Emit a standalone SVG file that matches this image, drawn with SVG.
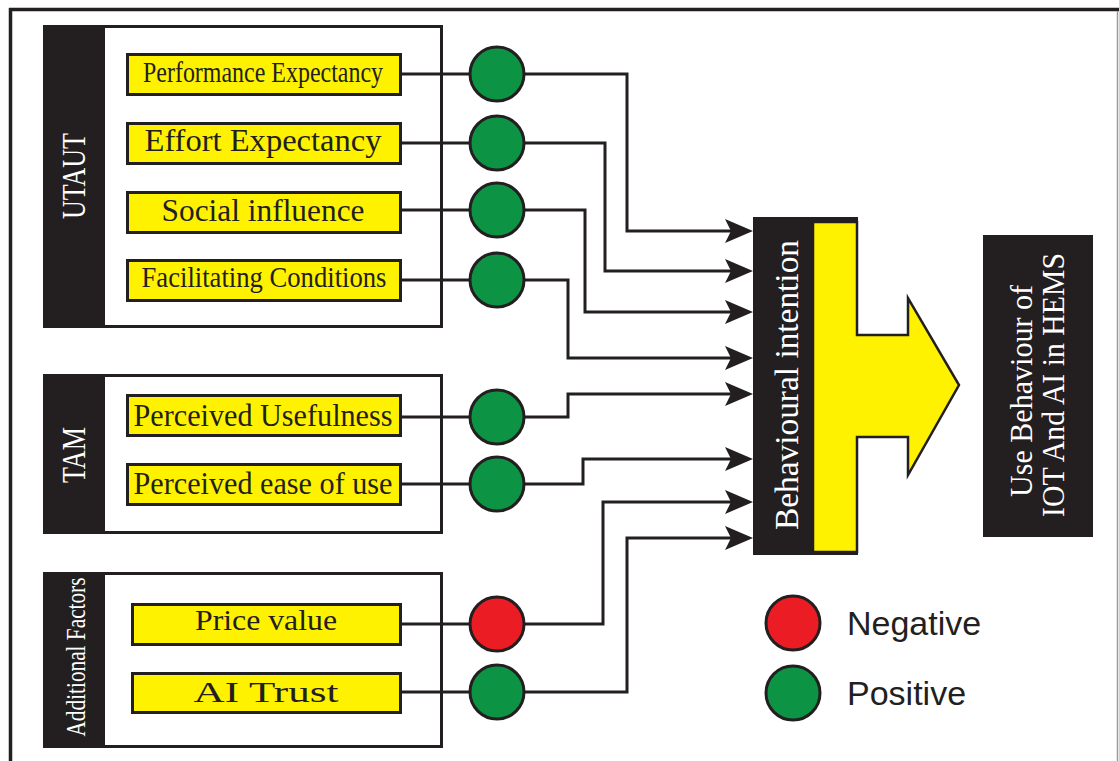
<svg xmlns="http://www.w3.org/2000/svg" width="1119" height="761" viewBox="0 0 1119 761">
<defs>
<style>
.frame{fill:#ffffff;stroke:#231f20;stroke-width:3}
.strip{fill:#231f20}
.ybox{fill:#fff200;stroke:#231f20;stroke-width:3}
.pos{fill:#0c9444;stroke:#231f20;stroke-width:3}
.neg{fill:#ec1c24;stroke:#231f20;stroke-width:3}
.conn{fill:none;stroke:#231f20;stroke-width:3;marker-end:url(#ah)}
.lbl{font-family:"Liberation Serif","Times New Roman",serif;fill:#231f20;text-anchor:middle}
.wlbl{font-family:"Liberation Serif","Times New Roman",serif;fill:#ffffff;text-anchor:middle}
.leg{font-family:"Liberation Sans",Arial,sans-serif;fill:#231f20;font-size:34px}
</style>
<marker id="ah" markerUnits="userSpaceOnUse" markerWidth="28" markerHeight="26" viewBox="0 0 28 26" refX="20" refY="13" orient="auto">
<path d="M0,1 L28,13 L0,25 L6,13 z" fill="#231f20"/>
</marker>
</defs>
<rect x="0" y="0" width="1119" height="761" fill="#ffffff"/>
<g id="outer-frame">
<line x1="9" y1="9.5" x2="1119" y2="9.5" stroke="#231f20" stroke-width="3.5"/>
<line x1="10.5" y1="8" x2="10.5" y2="761" stroke="#231f20" stroke-width="3.5"/>
<line x1="1117.5" y1="11" x2="1117.5" y2="761" stroke="#9a9a9a" stroke-width="1.5"/>
</g>
<g id="group-utaut">
<rect class="frame" x="44.5" y="26.5" width="397" height="300"/>
<rect class="strip" x="43" y="25" width="62" height="303"/>
<text class="wlbl" font-size="33" textLength="86" lengthAdjust="spacingAndGlyphs" transform="translate(85,176) rotate(-90)">UTAUT</text>
</g>
<g id="group-tam">
<rect class="frame" x="44.5" y="375.5" width="397" height="157"/>
<rect class="strip" x="43" y="374" width="62" height="160"/>
<text class="wlbl" font-size="33" textLength="56" lengthAdjust="spacingAndGlyphs" transform="translate(85,455) rotate(-90)">TAM</text>
</g>
<g id="group-additional">
<rect class="frame" x="44.5" y="573.5" width="397" height="173"/>
<rect class="strip" x="43" y="572" width="62" height="176"/>
<text class="wlbl" font-size="28" textLength="159" lengthAdjust="spacingAndGlyphs" transform="translate(85,657) rotate(-90)">Additional Factors</text>
</g>
<g id="connectors">
<path class="conn" d="M402,74 H627 V231 H745"/>
<path class="conn" d="M402,143 H605 V271 H745"/>
<path class="conn" d="M402,210 H585 V312 H745"/>
<path class="conn" d="M402,280 H568 V358 H745"/>
<path class="conn" d="M402,417 H568 V394 H745"/>
<path class="conn" d="M402,484 H583 V459 H745"/>
<path class="conn" d="M402,624 H603 V502 H745"/>
<path class="conn" d="M402,692 H627 V538 H745"/>
</g>
<g id="node-performance">
<rect class="ybox" x="127.5" y="54.5" width="273" height="40"/>
<text class="lbl" x="263" y="82" font-size="30" textLength="240" lengthAdjust="spacingAndGlyphs">Performance Expectancy</text>
</g>
<g id="node-effort">
<rect class="ybox" x="127.5" y="123.5" width="273" height="40"/>
<text class="lbl" x="263" y="151" font-size="31" textLength="237" lengthAdjust="spacingAndGlyphs">Effort Expectancy</text>
</g>
<g id="node-social">
<rect class="ybox" x="127.5" y="192.5" width="273" height="40"/>
<text class="lbl" x="263" y="221" font-size="31" textLength="203" lengthAdjust="spacingAndGlyphs">Social influence</text>
</g>
<g id="node-facilitating">
<rect class="ybox" x="127.5" y="260.5" width="273" height="40"/>
<text class="lbl" x="264" y="287" font-size="30" textLength="245" lengthAdjust="spacingAndGlyphs">Facilitating Conditions</text>
</g>
<g id="node-usefulness">
<rect class="ybox" x="127.5" y="395.5" width="273" height="40"/>
<text class="lbl" x="263" y="426" font-size="31" textLength="259" lengthAdjust="spacingAndGlyphs">Perceived Usefulness</text>
</g>
<g id="node-ease">
<rect class="ybox" x="127.5" y="464.5" width="273" height="40"/>
<text class="lbl" x="263" y="494" font-size="31" textLength="259" lengthAdjust="spacingAndGlyphs">Perceived ease of use</text>
</g>
<g id="node-price">
<rect class="ybox" x="132.5" y="604.5" width="268" height="40"/>
<text class="lbl" x="266" y="630" font-size="29" textLength="142" lengthAdjust="spacingAndGlyphs">Price value</text>
</g>
<g id="node-aitrust">
<rect class="ybox" x="132.5" y="673.5" width="268" height="39"/>
<text class="lbl" x="266" y="702" font-size="29" textLength="145" lengthAdjust="spacingAndGlyphs">AI Trust</text>
</g>
<g id="effect-circles">
<circle class="pos" cx="497" cy="74" r="27"/>
<circle class="pos" cx="497" cy="143" r="27"/>
<circle class="pos" cx="497" cy="210" r="27"/>
<circle class="pos" cx="497" cy="280" r="27"/>
<circle class="pos" cx="497" cy="417" r="27"/>
<circle class="pos" cx="497" cy="484" r="27"/>
<circle class="neg" cx="497" cy="624" r="27"/>
<circle class="pos" cx="497" cy="692" r="27"/>
</g>
<g id="node-behavioural-intention">
<rect x="753" y="217" width="105" height="338" fill="#231f20"/>
<polygon points="813,222 857,222 857,335 908,335 908,298 959,385 908,475 908,437 857,437 857,552 813,552" fill="#fff200" stroke="#231f20" stroke-width="2.5"/>
<text class="wlbl" font-size="34" textLength="290" lengthAdjust="spacingAndGlyphs" transform="translate(798,385) rotate(-90)">Behavioural intention</text>
</g>
<g id="node-use-behaviour">
<rect x="983" y="235" width="110" height="302" fill="#231f20"/>
<text class="wlbl" font-size="31" textLength="212" lengthAdjust="spacingAndGlyphs" transform="translate(1032,391) rotate(-90)">Use Behaviour of</text>
<text class="wlbl" font-size="31" textLength="264" lengthAdjust="spacingAndGlyphs" transform="translate(1064,385) rotate(-90)">IOT And AI in HEMS</text>
</g>
<g id="legend">
<circle class="neg" cx="793" cy="623" r="27"/>
<text class="leg" x="847" y="635">Negative</text>
<circle class="pos" cx="793" cy="693" r="27"/>
<text class="leg" x="847" y="705">Positive</text>
</g>
</svg>
